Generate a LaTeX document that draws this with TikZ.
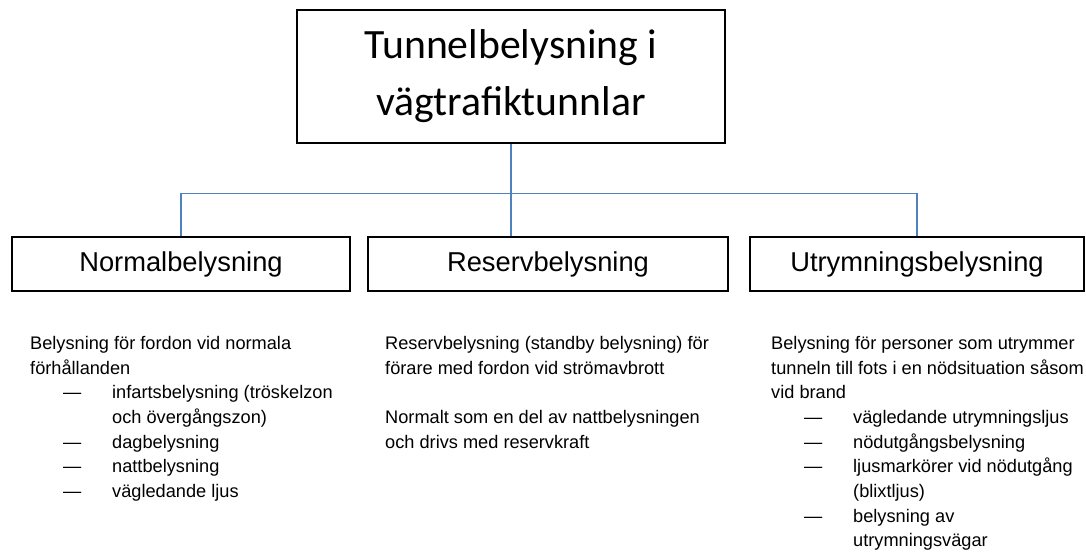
\documentclass[tikz,border=0pt]{standalone}
\usepackage{fontspec}
\setmainfont{Liberation Sans}
\newfontfamily\titelfont{Carlito}
\usetikzlibrary{positioning}
\definecolor{linjebla}{HTML}{4F81BD}
\newcommand{\punkt}{\hspace*{33pt}\makebox[49pt][l]{—}}
\newcommand{\fortsatt}{\hspace*{82pt}}

\begin{document}
\begin{tikzpicture}[x=1pt,y=-1pt,
  ruta/.style={draw=black,line width=1.3pt,inner sep=0pt},
  rubrik/.style={ruta,minimum height=54pt,font=\fontsize{27.3}{32}\selectfont},
  brodtext/.style={anchor=north west,inner sep=0pt,align=left,
    font=\fontsize{18.2}{24.7}\selectfont},
  koppling/.style={draw=linjebla,line width=1.3pt}]
  \useasboundingbox (0,0) rectangle (1086,554);
  \node[ruta,minimum width=428pt,minimum height=133pt,align=center,
    font=\titelfont\fontsize{41.7}{57}\selectfont] (titel) at (511,76.5)
    {Tunnelbelysning i\\vägtrafiktunnlar};
  \node[rubrik,minimum width=338pt] (normal) at (181,264) {Normalbelysning};
  \node[rubrik,minimum width=360pt] (reserv) at (548,264) {Reservbelysning};
  \node[rubrik,minimum width=334pt] (utrym) at (917,264) {Utrymningsbelysning};
  \coordinate (gren) at (511,193.5);
  \draw[koppling] (titel.south) -- (titel.south |- reserv.north);
  \draw[koppling] (normal.north) |- (gren) -| (utrym.north);
  \node[brodtext] (normaltext) at (30,336) {Belysning för fordon vid normala\\
    förhållanden\\
    \punkt infartsbelysning (tröskelzon\\
    \fortsatt och övergångszon)\\
    \punkt dagbelysning\\
    \punkt nattbelysning\\
    \punkt vägledande ljus};
  \node[brodtext] (reservtext) at (385,336) {Reservbelysning (standby belysning) för\\
    förare med fordon vid strömavbrott\\[24.7pt]
    Normalt som en del av nattbelysningen\\
    och drivs med reservkraft};
  \node[brodtext] (utrymtext) at (771,336) {Belysning för personer som utrymmer\\
    tunneln till fots i en nödsituation såsom\\
    vid brand\\
    \punkt vägledande utrymningsljus\\
    \punkt nödutgångsbelysning\\
    \punkt ljusmarkörer vid nödutgång\\
    \fortsatt (blixtljus)\\
    \punkt belysning av\\
    \fortsatt utrymningsvägar};
\end{tikzpicture}
\end{document}
